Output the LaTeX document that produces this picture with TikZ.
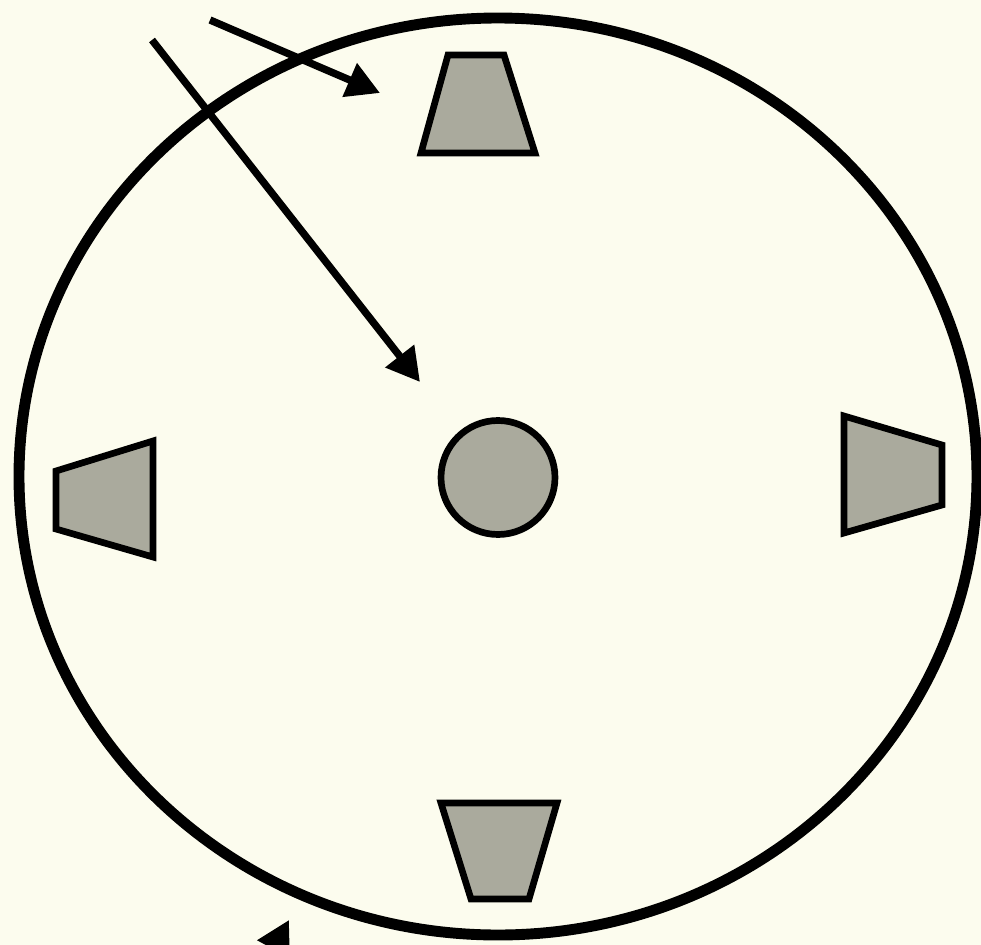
\documentclass[tikz,border=0pt]{standalone}
\usepackage{tikz}
\usetikzlibrary{arrows.meta}
\definecolor{paper}{HTML}{FCFCEE}
\definecolor{padgray}{HTML}{AAAA9D}

\begin{document}
\begin{tikzpicture}[x=0.01cm,y=-0.01cm,
  pad/.style={fill=padgray,draw=black,line width=1.9pt,line join=miter},
  pointer/.style={-{Triangle[length=3.3mm,width=3.5mm]},line width=2.1pt}]
  % page
  \fill[paper] (0,0) rectangle (981,945);
  \useasboundingbox (0,0) rectangle (981,945);
  \clip (0,0) rectangle (981,945);
  % outer ring
  \draw[line width=3.1pt] (498,476.5) ellipse [x radius=479, y radius=458.5];
  % four pads
  \draw[pad] (448,55) -- (504,55) -- (535,153) -- (421,153) -- cycle;
  \draw[pad] (441,803) -- (557,803) -- (529,899) -- (471,899) -- cycle;
  \draw[pad] (56,471) -- (153,441) -- (153,557) -- (56,529) -- cycle;
  \draw[pad] (844,416) -- (942,445) -- (942,505) -- (844,533) -- cycle;
  % centre disc
  \draw[pad] (498,477.5) circle [radius=57];
  % arrows
  \coordinate (shortfrom) at (210,20);
  \coordinate (shortto) at (380,93);
  \coordinate (longfrom) at (152,40);
  \coordinate (longto) at (420,382);
  \coordinate (lowfrom) at (218,1052);
  \coordinate (lowto) at (289,920);
  \draw[pointer] (shortfrom) -- (shortto);
  \draw[pointer] (longfrom) -- (longto);
  \draw[pointer] (lowfrom) -- (lowto);
\end{tikzpicture}
\end{document}
